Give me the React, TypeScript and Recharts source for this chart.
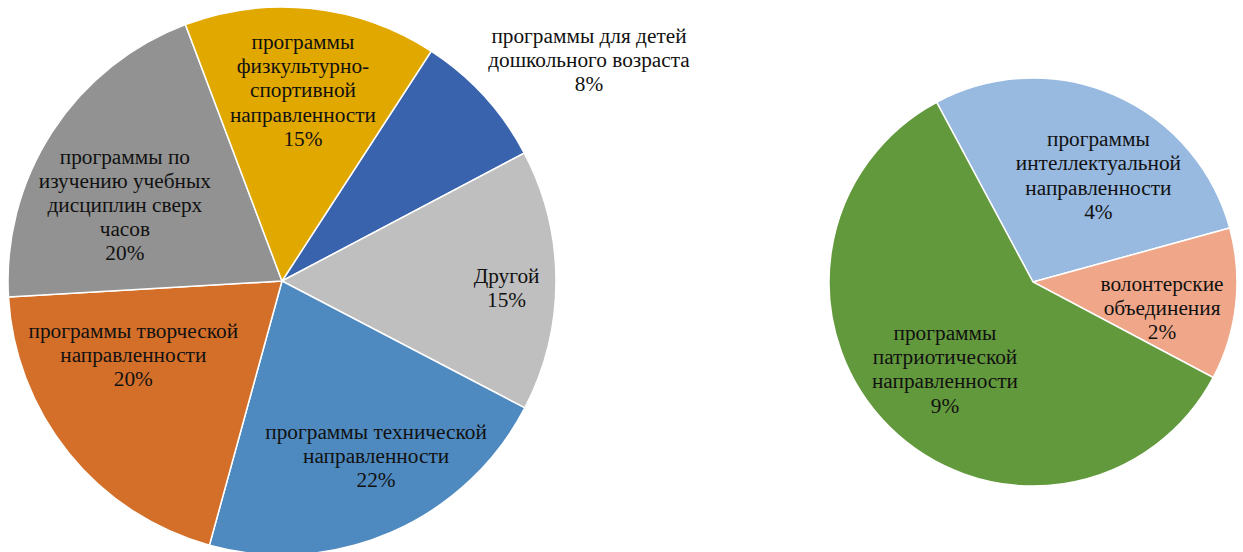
import { PieChart, Pie, Cell } from "recharts";

// main pie, clockwise from the top-right slice
const mainNames = [
  ["программы для детей", "дошкольного возраста"],
  ["Другой"],
  ["программы технической", "направленности"],
  ["программы творческой", "направленности"],
  ["программы по", "изучению учебных", "дисциплин сверх", "часов"],
  ["программы", "физкультурно-", "спортивной", "направленности"],
];
const mainValues = [8.1, 15.4, 21.6, 19.8, 20.2, 14.9];
const mainColors = ["#3A63AE", "#BFBFBF", "#4E89BF", "#D46F2A", "#929292", "#E1A800"];

// secondary pie ("Другой" broken down)
const subNames = [
  ["программы", "интеллектуальной", "направленности"],
  ["волонтерские", "объединения"],
  ["программы", "патриотической", "направленности"],
];
const subValues = [4.4, 1.85, 9.15];
const subColors = ["#98B9E0", "#F0A789", "#63993D"];

const mainData = mainNames.map((n, i) => ({ name: n.join(" "), lines: n, value: mainValues[i] }));
const subData = subNames.map((n, i) => ({ name: n.join(" "), lines: n, value: subValues[i] }));

// label placement: [radius factor, clockwise angle shift in degrees]
const mainLabelPos = [[1.38, 6.7], [0.82, 1.9], [0.726, -4.7], [0.606, 12.6], [0.637, -7.2], [0.7, 0.1]];
const subLabelPos = [[0.613, 8.3], [0.645, 5], [0.608, 0.35]];

const RAD = Math.PI / 180;
const LH = 24.2;
const FONT = "Liberation Serif";

const makeLabel = (pos: number[][]) => (props: any) => {
  const { cx, cy, midAngle, outerRadius, index, payload } = props;
  const [f, shift] = pos[index];
  const a = (midAngle - shift) * RAD;
  const r = outerRadius * f;
  const x = cx + r * Math.cos(a);
  const y = cy - r * Math.sin(a);
  const lines = [...(payload.lines ?? props.lines), `${Math.round(payload.value ?? props.value)}%`];
  const y0 = y - ((lines.length - 1) * LH) / 2;
  return (
    <text
      x={x}
      y={y0}
      textAnchor="middle"
      dominantBaseline="central"
      fill="#111"
      style={{ fontFamily: FONT, fontSize: 21.3 }}
    >
      {lines.map((l: string, i: number) => (
        <tspan key={i} x={x} y={y0 + i * LH}>
          {l}
        </tspan>
      ))}
    </text>
  );
};

export default function App() {
  return (
    <div style={{ position: "absolute", left: 0, top: 0, width: 1243, height: 552, background: "#fff" }}>
      <PieChart width={1243} height={552} margin={{ top: 0, right: 0, bottom: 0, left: 0 }}>
        <Pie
          data={mainData}
          dataKey="value"
          cx={282}
          cy={281}
          outerRadius={274}
          startAngle={57}
          endAngle={-303}
          stroke="#fff"
          strokeWidth={1.5}
          labelLine={false}
          label={makeLabel(mainLabelPos)}
          isAnimationActive={false}
        >
          {mainData.map((_, i) => (
            <Cell key={i} fill={mainColors[i]} />
          ))}
        </Pie>
        <Pie
          data={subData}
          dataKey="value"
          cx={1033}
          cy={282}
          outerRadius={204}
          startAngle={118.2}
          endAngle={-241.8}
          stroke="#fff"
          strokeWidth={1.5}
          labelLine={false}
          label={makeLabel(subLabelPos)}
          isAnimationActive={false}
        >
          {subData.map((_, i) => (
            <Cell key={i} fill={subColors[i]} />
          ))}
        </Pie>
      </PieChart>
    </div>
  );
}
